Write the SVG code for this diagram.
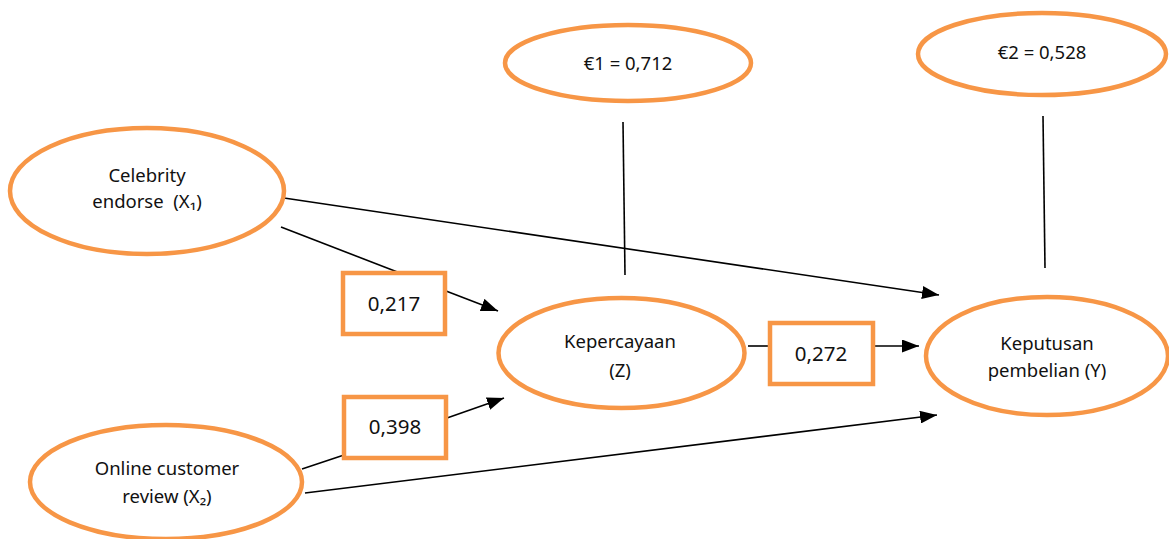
<svg xmlns="http://www.w3.org/2000/svg" width="1169" height="539" viewBox="0 0 1169 539">
<style>
.node{fill:#fff;stroke:#F79646;stroke-width:4.5}
.box{fill:#fff;stroke:#F79646;stroke-width:4.5}
.lbl{font-family:"Noto Sans","Open Sans","DejaVu Sans",sans-serif;font-size:18.5px;fill:#111;text-anchor:middle;white-space:pre}
.num{font-family:"Noto Sans","Open Sans","DejaVu Sans",sans-serif;font-size:20.5px;fill:#111;text-anchor:middle}
.edge{stroke:#000;stroke-width:1.6;fill:none}
</style>
<defs>
<marker id="arr" viewBox="0 0 17 13" markerWidth="17" markerHeight="13" refX="17" refY="6.5" orient="auto" markerUnits="userSpaceOnUse">
<path d="M0,0 L17,6.5 L0,13 z" fill="#000"/>
</marker>
</defs>
<g id="connectors">
<line class="edge" x1="281" y1="227" x2="400" y2="273"/>
<line class="edge" x1="446" y1="291" x2="498" y2="311" marker-end="url(#arr)"/>
<line class="edge" x1="284" y1="198" x2="939" y2="295" marker-end="url(#arr)"/>
<line class="edge" x1="302" y1="469" x2="344" y2="455"/>
<line class="edge" x1="447" y1="418" x2="504" y2="398" marker-end="url(#arr)"/>
<line class="edge" x1="305" y1="493" x2="937" y2="415" marker-end="url(#arr)"/>
<line class="edge" x1="748" y1="346" x2="770" y2="346"/>
<line class="edge" x1="873" y1="346" x2="919" y2="346" marker-end="url(#arr)"/>
<line class="edge" x1="623" y1="122" x2="625" y2="275"/>
<line class="edge" x1="1043" y1="116" x2="1045" y2="268"/>
</g>
<g id="celebrity">
<ellipse class="node" cx="147" cy="191" rx="137" ry="63"/>
<text class="lbl" x="147" y="182">Celebrity</text>
<text class="lbl" x="147" y="208" xml:space="preserve">endorse  (X₁)</text>
</g>
<g id="online">
<ellipse class="node" cx="166" cy="482" rx="136" ry="57"/>
<text class="lbl" x="167" y="475">Online customer</text>
<text class="lbl" x="167" y="503">review (X₂)</text>
</g>
<g id="kepercayaan">
<ellipse class="node" cx="621.5" cy="353" rx="123" ry="55"/>
<text class="lbl" x="620" y="348">Kepercayaan</text>
<text class="lbl" x="620" y="377">(Z)</text>
</g>
<g id="keputusan">
<ellipse class="node" cx="1047" cy="356" rx="121" ry="59"/>
<text class="lbl" x="1047" y="350">Keputusan</text>
<text class="lbl" x="1047" y="377">pembelian (Y)</text>
</g>
<g id="e1">
<ellipse class="node" cx="628" cy="63" rx="123" ry="38"/>
<text class="lbl" x="628" y="70">€1 = 0,712</text>
</g>
<g id="e2">
<ellipse class="node" cx="1042" cy="54" rx="124" ry="41"/>
<text class="lbl" x="1042" y="59">€2 = 0,528</text>
</g>
<g id="b217">
<rect class="box" x="343" y="273" width="102" height="61"/>
<text class="num" x="394" y="311">0,217</text>
</g>
<g id="b398">
<rect class="box" x="344" y="397" width="102" height="61"/>
<text class="num" x="395" y="434">0,398</text>
</g>
<g id="b272">
<rect class="box" x="770" y="323" width="103" height="61"/>
<text class="num" x="821" y="361">0,272</text>
</g>
</svg>
